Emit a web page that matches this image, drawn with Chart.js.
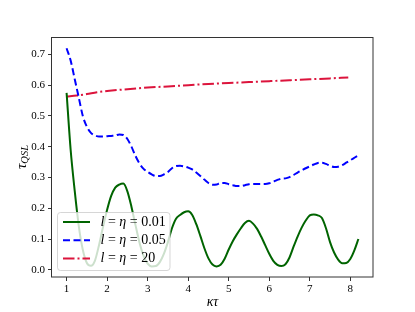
<!DOCTYPE html>
<html><head><meta charset="utf-8">
<script src="https://cdn.jsdelivr.net/npm/chart.js@4/dist/chart.umd.min.js"></script>
<style>html,body{margin:0;padding:0;background:#fff}#wrap{width:415px;height:312px}</style>
</head><body><div id="wrap"><canvas id="c" width="415" height="312"></canvas></div>
<script>
// ---- data ----
const kappaTau = [1.0,1.1,1.2,1.3,1.4,1.5,1.6,1.7,1.8,1.9,2.0,2.1,2.2,2.3,2.4,2.5,2.6,2.7,2.8,2.9,3.0,3.1,3.2,3.3,3.4,3.5,3.6,3.7,3.8,3.9,4.0,4.1,4.2,4.3,4.4,4.5,4.6,4.7,4.8,4.9,5.0,5.1,5.2,5.3,5.4,5.5,5.6,5.7,5.8,5.9,6.0,6.1,6.2,6.3,6.4,6.5,6.6,6.7,6.8,6.9,7.0,7.1,7.2,7.3,7.4,7.5,7.6,7.7,7.8,7.9,8.0,8.1,8.2];
const tauEta001 = [0.575,0.39,0.257,0.143,0.065,0.022,0.013,0.03,0.08,0.14,0.195,0.24,0.267,0.277,0.28,0.255,0.205,0.145,0.088,0.045,0.02,0.011,0.012,0.025,0.052,0.09,0.135,0.166,0.178,0.187,0.19,0.178,0.148,0.11,0.07,0.037,0.017,0.011,0.016,0.036,0.066,0.093,0.115,0.135,0.152,0.159,0.15,0.133,0.108,0.08,0.052,0.029,0.016,0.012,0.018,0.04,0.075,0.108,0.137,0.16,0.177,0.18,0.177,0.168,0.135,0.09,0.056,0.033,0.021,0.022,0.035,0.063,0.1];
const tauEta005 = [0.72,0.68,0.62,0.56,0.5,0.465,0.445,0.437,0.433,0.433,0.434,0.435,0.436,0.44,0.438,0.425,0.4,0.37,0.345,0.328,0.318,0.31,0.305,0.305,0.31,0.318,0.33,0.337,0.338,0.336,0.332,0.326,0.316,0.305,0.293,0.282,0.276,0.277,0.282,0.282,0.278,0.275,0.272,0.272,0.275,0.278,0.279,0.279,0.279,0.279,0.281,0.286,0.292,0.296,0.297,0.301,0.308,0.316,0.323,0.33,0.336,0.342,0.347,0.348,0.344,0.338,0.334,0.335,0.34,0.348,0.356,0.364,0.372];
const kappaTauEta20 = [1,1.25,1.5,1.75,2,2.5,3,3.5,4,4.5,5,5.5,6,6.5,7,7.5,7.95];
const tauEta20 = [0.563,0.566,0.571,0.577,0.581,0.587,0.592,0.596,0.6,0.604,0.607,0.61,0.613,0.616,0.619,0.622,0.625];
const etaLabels = ['0.01','0.05','20'];
const xTicks = [1,2,3,4,5,6,7,8];
const yTicks = [0,0.1,0.2,0.3,0.4,0.5,0.6,0.7];

const SERIF = '"Liberation Serif","DejaVu Serif",serif';
const pts = (xs, ys) => xs.map((x, i) => ({x: x, y: ys[i]}));

function drawParts(ctx, parts, x, y) {
  let cx = x;
  for (const p of parts) {
    ctx.font = (p.it ? 'italic ' : '') + p.size + 'px ' + SERIF;
    ctx.fillText(p.t, cx, y + (p.dy || 0));
    cx += ctx.measureText(p.t).width;
  }
  return cx;
}
function partsWidth(ctx, parts) {
  let w = 0;
  for (const p of parts) { ctx.font = (p.it ? 'italic ' : '') + p.size + 'px ' + SERIF; w += ctx.measureText(p.t).width; }
  return w;
}

const decor = {
  id: 'decor',
  afterDatasetsDraw(chart) {
    const ctx = chart.ctx, a = chart.chartArea;
    ctx.save();
    // frame (spines)
    ctx.strokeStyle = '#333'; ctx.lineWidth = 1;
    ctx.strokeRect(Math.round(a.left) - 0.5, Math.round(a.top) + 0.5, Math.round(a.right) - Math.round(a.left) + 0.5, Math.round(a.bottom) - Math.round(a.top) - 0.5);
    // y-axis label tau_QSL
    const yl = [{t:'τ', it:true, size:15}, {t:'QSL', it:true, size:10.5, dy:3}];
    ctx.translate(22, (a.top + a.bottom) / 2);
    ctx.rotate(-Math.PI / 2);
    ctx.fillStyle = '#000'; ctx.textBaseline = 'middle';
    drawParts(ctx, yl, -partsWidth(ctx, yl) / 2, 0);
    ctx.restore();

    // legend
    ctx.save();
    const x0 = a.left + 5.5, y0 = a.bottom - 64.5, w = 112.5, h = 58, r = 3;
    ctx.beginPath();
    ctx.moveTo(x0 + r, y0); ctx.lineTo(x0 + w - r, y0); ctx.arcTo(x0 + w, y0, x0 + w, y0 + r, r);
    ctx.lineTo(x0 + w, y0 + h - r); ctx.arcTo(x0 + w, y0 + h, x0 + w - r, y0 + h, r);
    ctx.lineTo(x0 + r, y0 + h); ctx.arcTo(x0, y0 + h, x0, y0 + h - r, r);
    ctx.lineTo(x0, y0 + r); ctx.arcTo(x0, y0, x0 + r, y0, r); ctx.closePath();
    ctx.fillStyle = 'rgba(255,255,255,0.8)'; ctx.fill();
    ctx.strokeStyle = 'rgba(204,204,204,0.8)'; ctx.lineWidth = 1; ctx.stroke();
    chart.data.datasets.forEach((ds, i) => {
      const yy = y0 + 9.5 + i * 18.3;
      ctx.beginPath();
      ctx.setLineDash(ds.borderDash || []);
      ctx.strokeStyle = ds.borderColor; ctx.lineWidth = ds.borderWidth;
      ctx.moveTo(x0 + 5.5, yy); ctx.lineTo(x0 + 32.5, yy); ctx.stroke();
      ctx.setLineDash([]);
      ctx.fillStyle = '#000'; ctx.textBaseline = 'middle';
      drawParts(ctx, [{t:'l', it:true, size:14}, {t:' = ', size:14}, {t:'η', it:true, size:14}, {t:' = ' + etaLabels[i], size:14}], x0 + 43, yy);
    });
    ctx.restore();
  }
};

new Chart(document.getElementById('c'), {
  type: 'line',
  data: {
    datasets: [
      {label: 'l = η = ' + etaLabels[0], data: pts(kappaTau, tauEta001), borderColor: '#006400', borderWidth: 2, borderDash: [], pointRadius: 0, fill: false, cubicInterpolationMode: 'monotone'},
      {label: 'l = η = ' + etaLabels[1], data: pts(kappaTau, tauEta005), borderColor: '#0000ff', borderWidth: 2, borderDash: [7, 3.5], pointRadius: 0, fill: false, cubicInterpolationMode: 'monotone'},
      {label: 'l = η = ' + etaLabels[2], data: pts(kappaTauEta20, tauEta20), borderColor: '#dc143c', borderWidth: 2, borderDash: [11.5, 3, 2, 3], pointRadius: 0, fill: false, cubicInterpolationMode: 'monotone'}
    ]
  },
  options: {
    responsive: false, animation: false, devicePixelRatio: 1,
    layout: {padding: {left: 0, top: 37, right: 42, bottom: 0}},
    plugins: {legend: {display: false}, tooltip: {enabled: false}},
    scales: {
      x: {
        type: 'linear', min: 0.64, max: 8.56,
        afterBuildTicks: s => { s.ticks = xTicks.map(v => ({value: v})); },
        afterFit: s => { s.height = 35; },
        grid: {display: true, drawOnChartArea: false, drawTicks: true, tickLength: 4, color: '#333', lineWidth: 1},
        border: {display: false},
        ticks: {padding: 2, color: '#000', font: {family: SERIF, size: 11}, maxRotation: 0, autoSkip: false, callback: v => String(v)},
        title: {display: true, text: 'κτ', color: '#000', font: {family: SERIF, size: 14, style: 'italic'}, padding: {top: 0, bottom: 1.5}}
      },
      y: {
        type: 'linear', min: -0.0235, max: 0.7565,
        afterBuildTicks: s => { s.ticks = yTicks.map(v => ({value: v})); },
        afterFit: s => { s.width = 52; },
        grid: {display: true, drawOnChartArea: false, drawTicks: true, tickLength: 4, color: '#333', lineWidth: 1},
        border: {display: false},
        ticks: {padding: 3, color: '#000', font: {family: SERIF, size: 11}, autoSkip: false, callback: v => v.toFixed(1)}
      }
    }
  },
  plugins: [decor]
});
</script>
</body></html>
